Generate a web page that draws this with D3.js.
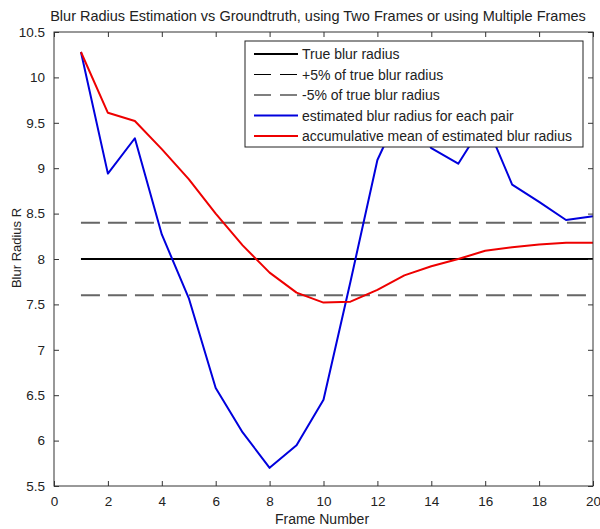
<!DOCTYPE html>
<html>
<head>
<meta charset="utf-8">
<script src="https://cdn.jsdelivr.net/npm/d3@7"></script>
<style>
  body { margin: 0; background: #fff; }
  text { font-family: "Liberation Sans", Arial, sans-serif; fill: #222; }
</style>
</head>
<body>
<div id="chart"></div>
<script>
// Data
const frames = d3.range(1, 21);
const estimatedPerPair = [10.28, 8.94, 9.33, 8.27, 7.57, 6.58, 6.09, 5.70, 5.95, 6.45,
                          7.75, 9.09, 9.73, 9.22, 9.05, 9.52, 8.82, 8.63, 8.43, 8.47];
const accumulativeMean = [10.28, 9.61, 9.52, 9.21, 8.88, 8.50, 8.15, 7.85, 7.63, 7.52,
                          7.53, 7.66, 7.82, 7.92, 8.00, 8.09, 8.13, 8.16, 8.18, 8.18];
const trueRadius = 8;
const plusFive = 8.4;
const minusFive = 7.6;
const xTicks = d3.range(0, 21, 2);
const yTicks = d3.range(5.5, 10.51, 0.5);
const legendLabels = ["True blur radius", "+5% of true blur radius", "-5% of true blur radius",
                      "estimated blur radius for each pair", "accumulative mean of estimated blur radius"];

const W = 600, H = 529;
const margin = { top: 32, right: 7, bottom: 43, left: 54 };
const width = W - margin.left - margin.right;
const height = H - margin.top - margin.bottom;

const svg = d3.select("#chart").append("svg")
    .attr("width", W).attr("height", H);
const g = svg.append("g")
    .attr("transform", "translate(" + margin.left + "," + margin.top + ")");

const x = d3.scaleLinear().domain([0, 20]).range([0, width]);
const y = d3.scaleLinear().domain([5.5, 10.5]).range([height, 0]);

// Reference lines
const refLine = (val, color, dash, w) => {
    g.append("line")
        .attr("x1", x(1)).attr("x2", x(20))
        .attr("y1", y(val)).attr("y2", y(val))
        .attr("stroke", color).attr("stroke-width", w)
        .attr("stroke-dasharray", dash);
};
refLine(plusFive, "#666", "19,8", 2);
refLine(minusFive, "#666", "19,8", 2);
refLine(trueRadius, "#000", null, 2);

const line = d3.line().x((d, i) => x(frames[i])).y(d => y(d));
g.append("path").datum(estimatedPerPair)
    .attr("fill", "none").attr("stroke", "#0000dd").attr("stroke-width", 2)
    .attr("stroke-linejoin", "round").attr("d", line);
g.append("path").datum(accumulativeMean)
    .attr("fill", "none").attr("stroke", "#ee0000").attr("stroke-width", 2)
    .attr("stroke-linejoin", "round").attr("d", line);

// Axes box with inward ticks (MATLAB style)
const axisColor = "#333";
g.append("rect").attr("width", width).attr("height", height)
    .attr("fill", "none").attr("stroke", axisColor).attr("stroke-width", 1);

const bottomAxis = g.append("g").attr("transform", "translate(0," + height + ")")
    .call(d3.axisBottom(x).tickValues(xTicks).tickSize(-5).tickPadding(10).tickFormat(d3.format("d")));
const topAxis = g.append("g")
    .call(d3.axisTop(x).tickValues(xTicks).tickSize(-5).tickFormat(""));
const leftAxis = g.append("g")
    .call(d3.axisLeft(y).tickValues(yTicks).tickSize(-5).tickPadding(9).tickFormat(d => String(+d.toFixed(1))));
const rightAxis = g.append("g").attr("transform", "translate(" + width + ",0)")
    .call(d3.axisRight(y).tickValues(yTicks).tickSize(-5).tickFormat(""));

[bottomAxis, topAxis, leftAxis, rightAxis].forEach(a => {
    a.select(".domain").remove();
    a.selectAll("line").attr("stroke", axisColor);
    a.selectAll("text").style("font-size", "13.5px")
        .style("font-family", "'Liberation Sans', Arial, sans-serif").attr("fill", "#222");
});

// Labels and title
svg.append("text")
    .attr("x", 318).attr("y", 21)
    .attr("text-anchor", "middle").style("font-size", "14.5px")
    .text("Blur Radius Estimation vs Groundtruth, using Two Frames or using Multiple Frames");

svg.append("text")
    .attr("x", 322).attr("y", 524)
    .attr("text-anchor", "middle").style("font-size", "14px")
    .text("Frame Number");

svg.append("text")
    .attr("transform", "translate(21,248) rotate(-90)")
    .attr("text-anchor", "middle").style("font-size", "13px")
    .text("Blur Radius R");

// Legend
const legend = svg.append("g").attr("transform", "translate(245,41)");
legend.append("rect").attr("width", 338).attr("height", 106)
    .attr("fill", "#fff").attr("stroke", "#222").attr("stroke-width", 1);
const legendStyles = [
    { color: "#000", dash: null },
    { color: "#000", dash: "17,9" },
    { color: "#000", dash: "17,9" },
    { color: "#0000dd", dash: null },
    { color: "#ee0000", dash: null }
];
legendLabels.forEach((label, i) => {
    const ly = 13 + i * 20.5;
    legend.append("line")
        .attr("x1", 9).attr("x2", 53).attr("y1", ly).attr("y2", ly)
        .attr("stroke", legendStyles[i].color)
        .attr("stroke-width", i === 1 || i === 2 ? 1.2 : 2)
        .attr("stroke-dasharray", legendStyles[i].dash);
    legend.append("text")
        .attr("x", 57).attr("y", ly + 5)
        .style("font-size", "14px")
        .text(label);
});
</script>
</body>
</html>
